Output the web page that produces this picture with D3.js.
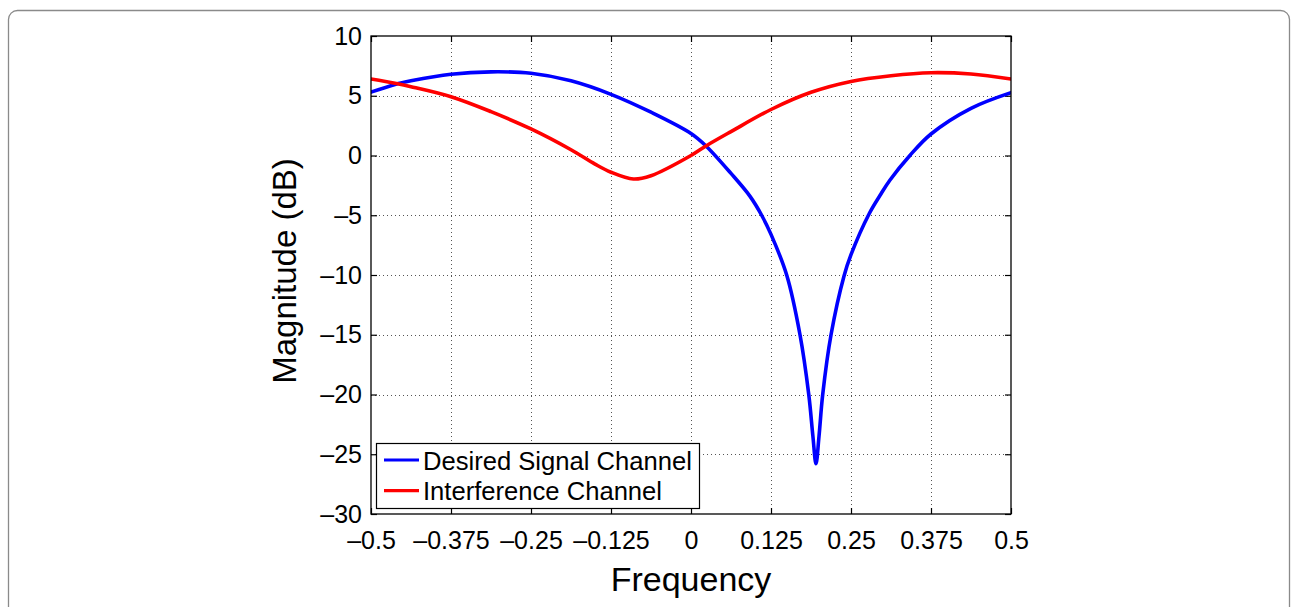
<!DOCTYPE html>
<html>
<head>
<meta charset="utf-8">
<script src="https://cdn.jsdelivr.net/npm/d3@7"></script>
<style>
  html, body { margin: 0; padding: 0; background: #fff; }
  svg text { font-family: "Liberation Sans", Arial, Helvetica, sans-serif; fill: #000; }
</style>
</head>
<body>
<svg id="chart" width="1292" height="607"></svg>
<script>
// ---- data ----
const xTicks = [-0.5, -0.375, -0.25, -0.125, 0, 0.125, 0.25, 0.375, 0.5];
const xTickLabels = ["\u22120.5", "\u22120.375", "\u22120.25", "\u22120.125", "0", "0.125", "0.25", "0.375", "0.5"];
const yTicks = [10, 5, 0, -5, -10, -15, -20, -25, -30];
const yTickLabels = ["10", "5", "0", "\u22125", "\u221210", "\u221215", "\u221220", "\u221225", "\u221230"];

const desiredFreq = [-0.5, -0.4625, -0.4375, -0.375, -0.3125, -0.25, -0.1875, -0.125, -0.0625, 0, 0.0234, 0.0625, 0.092, 0.1104, 0.125, 0.1495, 0.1703, 0.184, 0.1905, 0.1953, 0.2, 0.2058, 0.2188, 0.239, 0.25, 0.2786, 0.297, 0.311, 0.342, 0.375, 0.4375, 0.5];
const desiredMag  = [5.3, 5.95, 6.25, 6.8, 7.0, 6.88, 6.25, 5.12, 3.62, 1.84, 0.8, -1.5, -3.4, -5, -6.6, -10, -15, -20, -23.5, -25.8, -23.5, -20, -15, -10.1, -8.3, -4.85, -3.2, -2.05, 0, 1.8, 3.95, 5.26];

const interfFreq = [-0.5, -0.4625, -0.4375, -0.375, -0.3125, -0.25, -0.1875, -0.15, -0.125, -0.09, -0.0625, 0, 0.0234, 0.0625, 0.125, 0.1875, 0.25, 0.3125, 0.375, 0.4375, 0.5];
const interfMag  = [6.4, 6.04, 5.76, 4.92, 3.67, 2.22, 0.48, -0.72, -1.4, -1.97, -1.69, 0.0, 0.8, 2.0, 3.85, 5.29, 6.2, 6.68, 6.93, 6.82, 6.4];

const seriesNames = ["Desired Signal Channel", "Interference Channel"];
const seriesColors = ["#0000ff", "#ff0000"];

// ---- layout ----
const svg = d3.select("#chart");
const L = 371, R = 1011, T = 36, B = 514;
const x = d3.scaleLinear().domain([-0.5, 0.5]).range([L, R]);
const y = d3.scaleLinear().domain([-30, 10]).range([B, T]);

// outer frame
svg.append("rect").attr("x", 8.5).attr("y", 10.5).attr("width", 1281).attr("height", 640)
  .attr("rx", 9).attr("fill", "none").attr("stroke", "#8a8a8a").attr("stroke-width", 1.3);

// plot background
svg.append("rect").attr("x", L).attr("y", T).attr("width", R - L).attr("height", B - T).attr("fill", "#fff");

// grid
const grid = svg.append("g").attr("stroke", "#555").attr("stroke-width", 1).attr("stroke-dasharray", "1,3");
grid.selectAll("line.v").data(xTicks.slice(1, -1)).join("line")
  .attr("x1", d => Math.round(x(d)) + 0.5).attr("x2", d => Math.round(x(d)) + 0.5)
  .attr("y1", T).attr("y2", B);
grid.selectAll("line.h").data(yTicks.slice(1, -1)).join("line")
  .attr("y1", d => Math.round(y(d)) + 0.5).attr("y2", d => Math.round(y(d)) + 0.5)
  .attr("x1", L).attr("x2", R);

// axes with inward ticks on all four sides
const tickLen = 6;
const axB = d3.axisBottom(x).tickValues(xTicks).tickSizeInner(-tickLen).tickSizeOuter(0)
  .tickFormat((d, i) => xTickLabels[i]).tickPadding(17);
const axT = d3.axisTop(x).tickValues(xTicks).tickSizeInner(-tickLen).tickSizeOuter(0).tickFormat("");
const axLft = d3.axisLeft(y).tickValues(yTicks).tickSizeInner(-tickLen).tickSizeOuter(0)
  .tickFormat((d, i) => yTickLabels[i]).tickPadding(9);
const axRt = d3.axisRight(y).tickValues(yTicks).tickSizeInner(-tickLen).tickSizeOuter(0).tickFormat("");

// draw the leading minus as a long, low dash like the reference's typeface
function withMinus(sel) {
  sel.each(function () {
    const t = d3.select(this);
    const s = t.text();
    if (s.startsWith("\u2212")) t.text("\u2013" + s.slice(1));
  });
}
function styleAxis(g) {
  g.select(".domain").remove();
  g.selectAll(".tick line").attr("stroke", "#000").attr("stroke-width", 1.2);
  g.selectAll(".tick text").attr("font-size", 25).attr("fill", "#000")
    .attr("font-family", "'Liberation Sans', Arial, sans-serif").call(withMinus);
}
svg.append("g").attr("transform", `translate(0,${B})`).call(axB).call(styleAxis);
svg.append("g").attr("transform", `translate(0,${T})`).call(axT).call(styleAxis);
svg.append("g").attr("transform", `translate(${L},0)`).call(axLft).call(styleAxis);
svg.append("g").attr("transform", `translate(${R},0)`).call(axRt).call(styleAxis);

// curves
const line = d3.line().x(d => x(d[0])).y(d => y(d[1])).curve(d3.curveCatmullRom.alpha(0.5));
const series = [
  d3.zip(desiredFreq, desiredMag),
  d3.zip(interfFreq, interfMag)
];
svg.append("clipPath").attr("id", "clip").append("rect")
  .attr("x", L).attr("y", T - 5).attr("width", R - L).attr("height", B - T + 10);
svg.append("g").attr("clip-path", "url(#clip)").selectAll("path").data(series).join("path")
  .attr("d", line).attr("fill", "none")
  .attr("stroke", (d, i) => seriesColors[i]).attr("stroke-width", 3.6)
  .attr("stroke-linejoin", "round").attr("stroke-linecap", "round");

// box
svg.append("rect").attr("x", L).attr("y", T).attr("width", R - L).attr("height", B - T)
  .attr("fill", "none").attr("stroke", "#000").attr("stroke-width", 1.3);

// axis labels
svg.append("text").attr("x", 691).attr("y", 591).attr("text-anchor", "middle")
  .attr("font-size", 34).text("Frequency");
svg.append("text").attr("transform", "translate(296,271) rotate(-90)").attr("text-anchor", "middle")
  .attr("font-size", 33).text("Magnitude (dB)");

// legend
const lg = svg.append("g");
lg.append("rect").attr("x", 376.5).attr("y", 443.5).attr("width", 323).attr("height", 65)
  .attr("fill", "#fff").attr("stroke", "#000").attr("stroke-width", 1.2);
const rows = lg.selectAll("g.item").data(seriesNames).join("g").attr("class", "item")
  .attr("transform", (d, i) => `translate(0,${460 + i * 30.7})`);
rows.append("line").attr("x1", 384).attr("x2", 419).attr("y1", 0).attr("y2", 0)
  .attr("stroke", (d, i) => seriesColors[i]).attr("stroke-width", 3.2);
rows.append("text").attr("x", 423).attr("y", 9.5).attr("font-size", 25.6).text(d => d);
</script>
</body>
</html>
